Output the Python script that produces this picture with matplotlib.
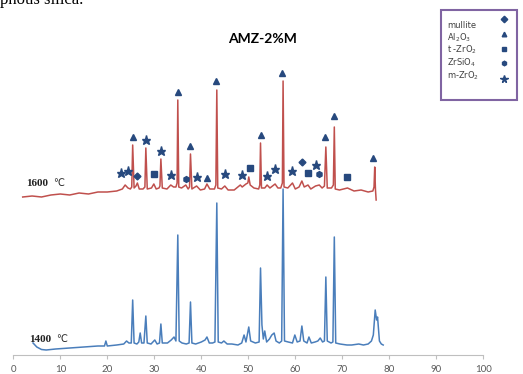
import matplotlib
matplotlib.use("Agg")
import matplotlib.pyplot as plt
from matplotlib.patches import Rectangle

# XRD pattern (2theta, intensity in arbitrary units)
red_2theta = [2.0, 4, 6, 8, 10, 12, 14, 16, 18, 20, 22, 23.2, 23.8, 24.4, 24.9,
              25.2, 25.4, 25.7, 26.1, 26.4, 26.8, 27.6, 28.0, 28.2, 28.5, 29.4,
              29.9, 30.4, 31.0, 31.2, 31.4, 31.7, 32.7, 33.5, 34.1, 34.6, 34.85,
              35.0, 35.2, 35.8, 36.7, 37.2, 37.5, 37.7, 38.0, 39.0, 39.8, 40.7,
              41.2, 41.8, 42.8, 43.1, 43.3, 43.5, 44.3, 45.0, 45.7, 47.0, 48.3,
              48.7, 49.5, 49.9, 50.1, 50.4, 51.2, 52.2, 52.45, 52.6, 52.8, 53.5,
              54.0, 54.6, 55.7, 56.3, 56.9, 57.25, 57.4, 57.6, 58.4, 59.4, 60.0,
              60.8, 61.4, 61.9, 62.7, 63.3, 64.3, 65.1, 65.7, 66.2, 66.5, 66.8,
              67.7, 68.1, 68.3, 68.5, 69.4, 71.1, 72.5, 74.0, 75.5, 76.5, 76.75,
              76.9, 77.05, 77.2]
red_int = [158, 159, 158, 160, 161, 160, 162, 161, 163, 163, 164, 166, 170, 167,
           166, 168, 210, 167, 169, 172, 166, 166, 168, 207, 166, 167,
           171, 166, 167, 169, 196, 167, 166, 170, 168, 168, 172,
           255, 168, 167, 170, 166, 168, 201, 166, 169, 165, 166,
           171, 166, 166, 170, 265, 167, 166, 169, 165, 165, 170,
           168, 171, 172, 178, 170, 167, 166, 170, 212, 167, 167,
           170, 167, 171, 167, 167, 172, 274, 168, 167, 172, 166,
           168, 174, 168, 170, 166, 169, 170, 167, 169, 208, 167,
           167, 170, 228, 166, 165, 167, 164, 165, 163, 164, 168,
           188, 166, 155]

blue_2theta = [4.2, 5.0, 6.0, 7.0, 9, 12, 15, 18, 19.4, 19.7, 20.0, 22, 23.5,
               24.1, 24.6, 25.1, 25.4, 25.7, 26.3, 26.7, 27.0, 27.3, 27.8, 28.2,
               28.5, 29.3, 30.1, 30.6, 31.1, 31.4, 31.7, 32.8, 33.6, 34.2, 34.6,
               35.0, 35.3, 35.9, 36.8, 37.4, 37.7, 38.0, 38.8, 40.0, 40.8, 41.2,
               41.7, 42.4, 42.9, 43.3, 43.6, 44.3, 44.8, 45.5, 46.5, 47.8, 48.6,
               49.1, 49.5, 50.1, 50.5, 51.5, 52.3, 52.6, 52.9, 53.2, 53.5, 53.9,
               54.5, 55.0, 55.5, 55.9, 56.6, 57.1, 57.4, 57.7, 58.5, 59.4, 59.9,
               60.4, 61.0, 61.4, 61.8, 62.5, 62.9, 63.4, 64.2, 64.8, 65.3, 65.8,
               66.2, 66.5, 66.8, 67.6, 68.0, 68.3, 68.6, 69.5, 71, 72, 73.5, 74.5,
               75.5, 76.2, 76.6, 77.0, 77.3, 77.5, 77.9, 78.3, 78.7]
blue_int = [12, 8, 5.5, 5, 6, 7, 8, 9, 9, 14, 9, 10, 11,
            14, 12, 12, 55, 12, 11, 13, 22, 12, 12, 39,
            12, 11, 15, 11, 12, 31, 12, 12, 15, 18, 14,
            120, 14, 12, 11, 12, 53, 12, 11, 13, 15, 18,
            12, 12, 13, 152, 13, 12, 14, 11, 11, 10, 12,
            20, 13, 28, 14, 12, 13, 87, 30, 16, 24, 13,
            16, 20, 22, 14, 12, 14, 166, 14, 13, 12, 20,
            13, 14, 29, 14, 12, 18, 12, 13, 14, 17, 13,
            14, 78, 14, 12, 13, 118, 12, 11, 10, 10, 11, 10,
            11, 14, 20, 45, 35, 38, 14, 11, 10]

# phase markers (2theta, height)
mullite_x = [26.4, 61.4]
mullite_y = [179.5, 193]
al2o3_x = [25.4, 35.0, 37.7, 41.2, 43.2, 52.6, 57.2, 66.4, 68.2, 76.6]
al2o3_y = [218, 263, 209, 177, 274, 220, 282, 218, 239, 197]
tzro2_x = [29.9, 50.4, 62.7, 71.1]
tzro2_y = [181, 187, 182, 178]
zrsio4_x = [36.7, 65.1]
zrsio4_y = [176, 181]
mzro2_x = [22.85, 24.5, 28.2, 31.4, 33.5, 39.0, 45.0, 48.6, 54.0, 55.7, 59.4, 64.3]
mzro2_y = [182, 184.5, 215, 204, 180, 178, 181, 180, 179, 186, 184, 190]

xticks = [0, 10, 20, 30, 40, 50, 60, 70, 80, 90, 100]

phase_names = ['mullite', r'Al$_2$O$_3$', r't -ZrO$_2$', r'ZrSiO$_4$', r'm-ZrO$_2$']
phase_markers = ['D', '^', 's', 'h', '*']

W, H = 523, 374
fig = plt.figure(figsize=(W / 100, H / 100), dpi=100)
ax = fig.add_axes([13.3 / W, 19 / H, 470 / W, 355 / H])
ax.set_xlim(0, 100)
ax.set_ylim(0, 355)

ax.plot(red_2theta, red_int, color='#c0504d', lw=1.1)
ax.plot(blue_2theta, blue_int, color='#4a7ebb', lw=1.1)

mc = '#27497e'
ax.plot(mullite_x, mullite_y, 'D', color=mc, ms=3.5, ls='none')
ax.plot(al2o3_x, al2o3_y, '^', color=mc, ms=4.5, ls='none')
ax.plot(tzro2_x, tzro2_y, 's', color=mc, ms=4.2, ls='none')
ax.plot(zrsio4_x, zrsio4_y, 'h', color=mc, ms=4.2, ls='none')
ax.plot(mzro2_x, mzro2_y, '*', color=mc, ms=6.8, ls='none')

# axis styling
for s in ['left', 'right', 'top']:
    ax.spines[s].set_visible(False)
ax.spines['bottom'].set_color('#bfbfbf')
ax.set_yticks([])
ax.set_xticks(xticks)
ax.tick_params(axis='x', colors='#bfbfbf', length=3, labelsize=7, pad=4,
               labelcolor='#595959')
for lab in ax.get_xticklabels():
    lab.set_family('Lato')

# temperature labels
serif = ['Liberation Serif', 'DejaVu Sans']
ax.text(2.7, 172, '1600', fontsize=8, fontweight='bold', family=serif,
        color='#222222', va='center')
ax.text(8.4, 172, '℃', fontsize=7, family=serif, color='#222222', va='center')
ax.text(3.4, 15, '1400', fontsize=8, fontweight='bold', family=serif,
        color='#222222', va='center')
ax.text(9.2, 15, '℃', fontsize=7, family=serif, color='#222222', va='center')

fig.text(263 / W, 1 - 39 / H, 'AMZ-2%M', fontsize=10, fontweight='bold',
         family='Lato', ha='center', va='center')

# fragment of the page text above the figure
fig.text(0.0, 1 - 4 / H, 'phous silica.', fontsize=12, family='Liberation Serif',
         va='baseline')

# legend box: text on the left, marker on the right
def px(x, y):
    return x / W, 1 - y / H

fig.patches.append(Rectangle(px(441, 100), 76 / W, 90 / H, transform=fig.transFigure,
                             facecolor='white', edgecolor='#8064a2', lw=1.5))
text_rows = [25, 37.5, 50, 63, 76]
mark_rows = [19, 33.5, 48.5, 63, 79]
for i, name in enumerate(phase_names):
    fig.text(*px(447, text_rows[i]), name, fontsize=6, color='#404040',
             va='center', ha='left')
    ms = 5.5 if phase_markers[i] == '*' else 3.3
    fig.add_artist(plt.Line2D([504 / W], [1 - mark_rows[i] / H], marker=phase_markers[i],
                              color=mc, ms=ms, ls='none', transform=fig.transFigure))

fig.savefig('out.png', dpi=100)
